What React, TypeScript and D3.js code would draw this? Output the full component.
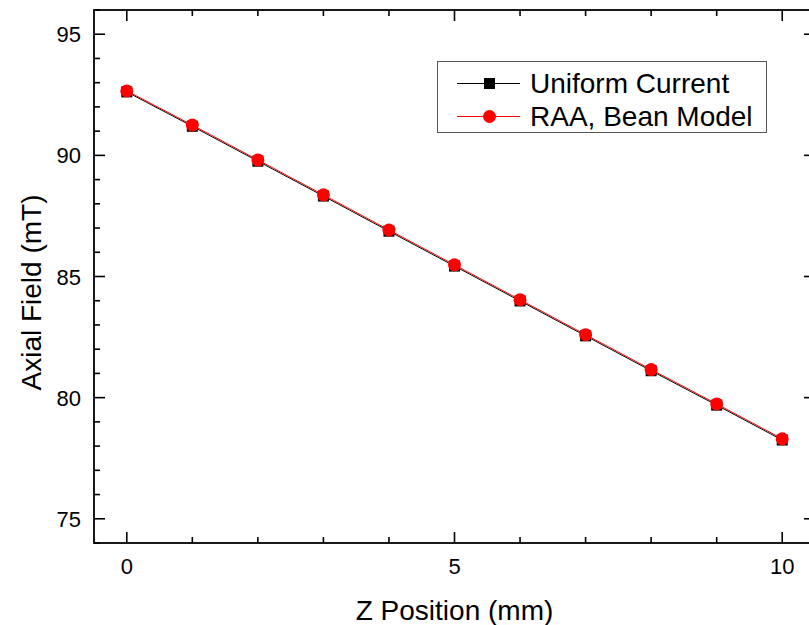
import React from 'react';
import * as d3 from 'd3';

// Z position (mm)
const zPositions = [0, 1, 2, 3, 4, 5, 6, 7, 8, 9, 10];
// axial field (mT)
const uniformCurrent = [92.62, 91.2, 89.76, 88.32, 86.87, 85.43, 83.99, 82.55, 81.11, 79.69, 78.25];
const beanModel = [92.66, 91.25, 89.81, 88.37, 86.92, 85.48, 84.04, 82.6, 81.16, 79.74, 78.3];

const xMajorTicks = [0, 5, 10];
const xMinorTicks = [0, 1, 2, 3, 4, 5, 6, 7, 8, 9, 10];
const yMajorTicks = [75, 80, 85, 90, 95];
const yMinorTicks = d3.range(74, 97, 1);

const seriesNames = ['Uniform Current', 'RAA, Bean Model'];

const W = 809;
const H = 625;
const margin = { top: 10, right: -6, bottom: 82, left: 94 };
const font = 'Liberation Sans, Arial, Helvetica, sans-serif';

const App: React.FC = () => {
  const x = d3.scaleLinear().domain([-0.5, 10.5]).range([margin.left, W - margin.right]);
  const y = d3.scaleLinear().domain([74, 96]).range([H - margin.bottom, margin.top]);
  const x0 = x.range()[0], x1 = x.range()[1];
  const y0 = y.range()[0], y1 = y.range()[1];

  const line = d3.line<number>()
    .x((_, i) => x(zPositions[i]))
    .y(d => y(d));

  const majorLen = 11;
  const minorLen = 6;

  return (
    <svg width={W} height={H} style={{ position: 'absolute', left: 0, top: 0, background: '#fff' }} fontFamily={font}>
      {/* series */}
      <path d={line(uniformCurrent) || ''} fill="none" stroke="#000" strokeWidth={1} />
      {uniformCurrent.map((v, i) => (
        <rect key={'s' + i} x={x(zPositions[i]) - 5.5} y={y(v) - 5.5} width={11} height={11} fill="#000" />
      ))}
      <path d={line(beanModel) || ''} fill="none" stroke="#f00" strokeWidth={1} />
      {beanModel.map((v, i) => (
        <circle key={'c' + i} cx={x(zPositions[i])} cy={y(v)} r={6.5} fill="#f00" />
      ))}

      {/* frame */}
      <rect x={x0} y={y1} width={x1 - x0} height={y0 - y1} fill="none" stroke="#000" strokeWidth={1.8} />

      {/* x ticks bottom and top */}
      {xMinorTicks.map(t => {
        const len = xMajorTicks.includes(t) ? majorLen : minorLen;
        return (
          <g key={'xt' + t} stroke="#000" strokeWidth={1.6}>
            <line x1={x(t)} x2={x(t)} y1={y0} y2={y0 - len} />
            <line x1={x(t)} x2={x(t)} y1={y1} y2={y1 + len} />
          </g>
        );
      })}
      {xMajorTicks.map(t => (
        <text key={'xl' + t} x={x(t)} y={573.5} textAnchor="middle" fontSize={22}>{t}</text>
      ))}

      {/* y ticks left and right */}
      {yMinorTicks.map(t => {
        const len = yMajorTicks.includes(t) ? majorLen : minorLen;
        return (
          <g key={'yt' + t} stroke="#000" strokeWidth={1.6}>
            <line x1={x0} x2={x0 + len} y1={y(t)} y2={y(t)} />
            <line x1={x1} x2={x1 - len} y1={y(t)} y2={y(t)} />
          </g>
        );
      })}
      {yMajorTicks.map(t => (
        <text key={'yl' + t} x={81} y={y(t) + 8} textAnchor="end" fontSize={22}>{t}</text>
      ))}

      {/* axis titles */}
      <text x={(x0 + x1) / 2} y={620} textAnchor="middle" fontSize={28}>Z Position (mm)</text>
      <text transform={`translate(41,${(y0 + y1) / 2 + 16}) rotate(-90)`} textAnchor="middle" fontSize={28}>Axial Field (mT)</text>

      {/* legend */}
      <g>
        <rect x={437.5} y={61.5} width={329} height={71} fill="#fff" stroke="#555" strokeWidth={1} />
        <line x1={457} x2={520} y1={83.5} y2={83.5} stroke="#000" strokeWidth={1} />
        <rect x={489.5 - 5.5} y={83.5 - 5.5} width={11} height={11} fill="#000" />
        <line x1={457} x2={520} y1={116.5} y2={116.5} stroke="#f00" strokeWidth={1} />
        <circle cx={489.5} cy={116.5} r={6.5} fill="#f00" />
        {seriesNames.map((n, i) => (
          <text key={n} x={530} y={93 + i * 33} fontSize={28}>{n}</text>
        ))}
      </g>
    </svg>
  );
};

export default App;
